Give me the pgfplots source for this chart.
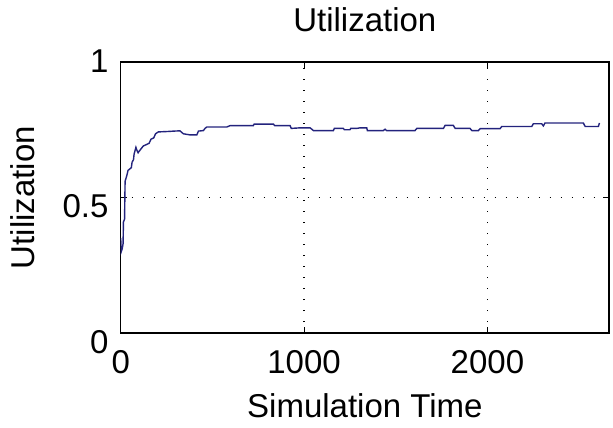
\documentclass[border=0pt]{standalone}
\usepackage{pgfplots}
\pgfplotsset{compat=1.18}
\usetikzlibrary{calc}
\usepackage{fontspec}
\setmainfont{Liberation Sans}

\definecolor{utilblue}{RGB}{35,35,125}
\newcommand{\chartfont}{\fontsize{33bp}{40bp}\selectfont}

% utilization over simulation time
\pgfplotstableread{
t u
0 0.35
3 0.30
8 0.31
13 0.33
15 0.41
21 0.42
24 0.56
33 0.58
40 0.60
58 0.61
62 0.63
70 0.64
73 0.66
83 0.685
88 0.675
95 0.665
100 0.670
123 0.690
155 0.700
165 0.715
180 0.720
190 0.735
205 0.742
269 0.744
290 0.745
323 0.746
342 0.735
360 0.733
378 0.731
415 0.731
424 0.745
451 0.747
460 0.755
469 0.760
578 0.760
596 0.765
723 0.765
728 0.771
833 0.771
840 0.765
924 0.765
930 0.755
978 0.757
1033 0.757
1051 0.747
1160 0.747
1165 0.755
1214 0.755
1220 0.750
1250 0.750
1255 0.755
1287 0.755
1305 0.757
1342 0.757
1345 0.747
1432 0.747
1442 0.752
1450 0.747
1605 0.747
1615 0.755
1760 0.755
1769 0.766
1814 0.766
1824 0.755
1905 0.755
1915 0.747
1951 0.747
1960 0.754
2069 0.754
2078 0.762
2242 0.762
2250 0.772
2296 0.772
2305 0.764
2314 0.775
2523 0.775
2533 0.762
2605 0.762
2611 0.775
}\utildata

\begin{document}
\begin{tikzpicture}
\begin{axis}[
    name=ax,
    scale only axis,
    width=488.3bp, height=271bp,
    xmin=0, xmax=2663, ymin=0, ymax=1,
    xtick={0,1000,2000}, ytick={0,0.5},
    extra y ticks={1},
    extra y tick style={grid=none, yticklabel style={yshift=9bp}},
    tick align=inside,
    major tick length=6bp,
    axis line style={black, line width=1.1bp},
    every tick/.style={black, line width=1bp},
    grid=major,
    grid style={black, line width=1.3bp, dash pattern=on 1.3bp off 9.7bp},
    /pgf/number format/assume math mode=true,
    /pgf/number format/1000 sep={},
    tick label style={font=\chartfont},
    xticklabel style={anchor=base, yshift=-40bp},
    yticklabel style={anchor=base east, inner sep=0pt, xshift=-12bp, yshift=-20bp},
    title={Utilization},
    title style={font=\chartfont, at={(axis description cs:0.5,1)}, anchor=base, yshift=25bp},
    xlabel={Simulation Time},
    xlabel style={font=\chartfont, at={(axis description cs:0.5,0)}, anchor=base, yshift=-84bp},
    ylabel={Utilization},
    ylabel style={font=\chartfont, at={(axis description cs:-0.1755,0.5)}, anchor=base},
]
\addplot[utilblue, line width=1.4bp, no markers] table[x=t, y=u] {\utildata};
\end{axis}
\pgfresetboundingbox
\useasboundingbox ($(ax.south west)+(-120.7bp,-95bp)$) rectangle ($(ax.south west)+(492.3bp,333bp)$);
\end{tikzpicture}
\end{document}
